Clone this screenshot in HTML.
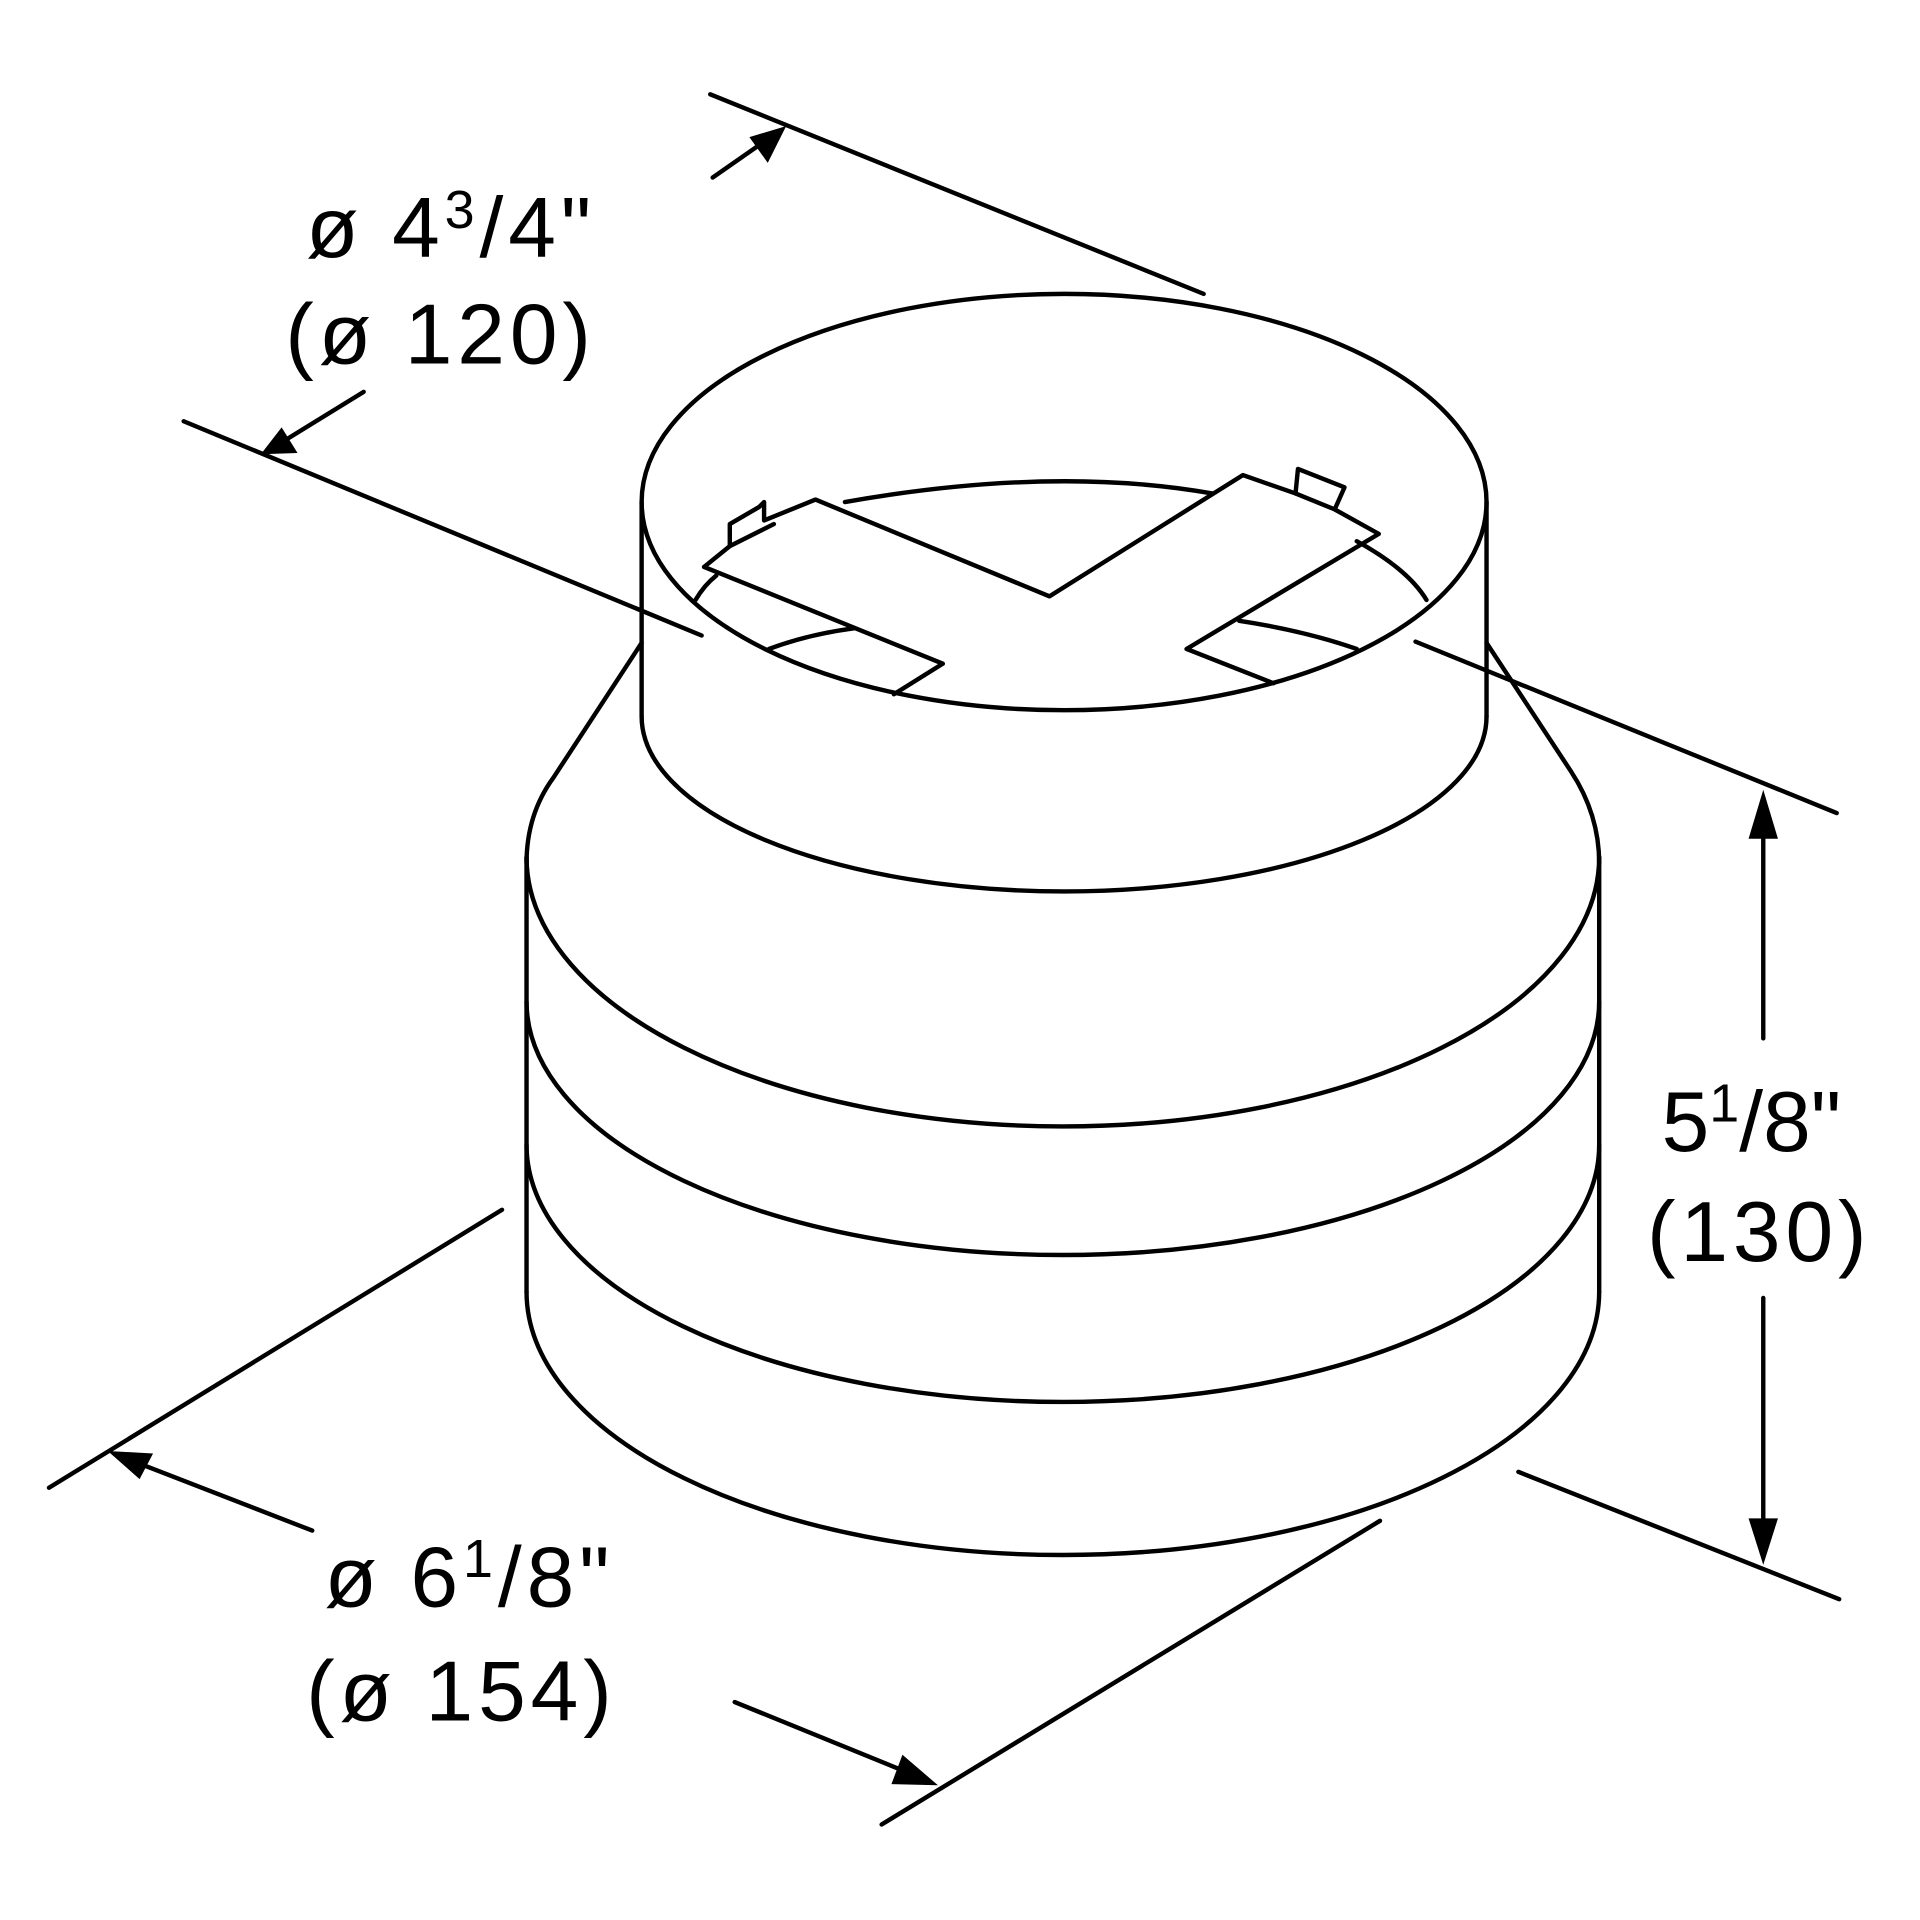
<!DOCTYPE html>
<html><head><style>html,body{margin:0;padding:0;background:#fff}svg{display:block}</style></head>
<body>
<svg width="1920" height="1920" viewBox="0 0 1568 1568" xmlns="http://www.w3.org/2000/svg">
<g fill="none" stroke="#000" stroke-width="3.6" stroke-linecap="round" stroke-linejoin="round">
<ellipse cx="869" cy="410" rx="345" ry="170"/>
<line x1="524" y1="410" x2="524" y2="585"/>
<line x1="1214" y1="410" x2="1214" y2="585"/>
<path d="M524,585 A345,143 0 0 0 1214,585"/>
<path d="M524,525 L452,635 Q430,665 430,705"/>
<path d="M1214,525 L1283,630 Q1306,665 1306,705"/>
<line x1="430" y1="700" x2="430" y2="1055"/>
<line x1="1306" y1="700" x2="1306" y2="1055"/>
<path d="M430,700 A438,220 0 0 0 1306,700"/>
<path d="M430,818 A438,207 0 0 0 1306,818"/>
<path d="M430,935 A438,210 0 0 0 1306,935"/>
<path d="M430,1055 A438,215 0 0 0 1306,1055"/>
<path d="M690,410 Q860,380 990,403"/>
<path d="M1108,442 Q1150,465 1165,490"/>
<path d="M1012,507 Q1065,515 1108,530"/>
<path d="M628,530 Q660,518 698,513"/>
<path d="M568,490 Q575,478 585,470"/>
<polyline points="575,463 596,446 596,428 620,414 624,410 624,425 666,408 857,487 1015,388 1058,403 1090,416 1126,436 969,530 1040,558"/>
<polyline points="575,463 770,542 730,567"/>
<polyline points="596,446 632,428"/>
<polyline points="1058,403 1060,383 1098,398 1090,416"/>
<line x1="580" y1="77" x2="983" y2="240"/>
<line x1="582" y1="145" x2="625" y2="115"/>
<line x1="150" y1="344" x2="573" y2="519"/>
<line x1="297" y1="320" x2="232" y2="360"/>
<line x1="1156" y1="524" x2="1500" y2="664"/>
<line x1="1240" y1="1202" x2="1502" y2="1306"/>
<line x1="1440" y1="670" x2="1440" y2="848"/>
<line x1="1440" y1="1060" x2="1440" y2="1255"/>
<line x1="410" y1="988" x2="40" y2="1215"/>
<line x1="255" y1="1250" x2="108" y2="1193"/>
<line x1="1127" y1="1242" x2="720" y2="1490"/>
<line x1="600" y1="1390" x2="745" y2="1449"/>
</g>
<g fill="#000">
<polygon points="642,103 612,112 627,133"/>
<polygon points="213,371 230,349 243,370"/>
<polygon points="1440,645 1428,685 1452,685"/>
<polygon points="1440,1278 1428,1240 1452,1240"/>
<polygon points="88,1185 125,1187 114,1208"/>
<polygon points="766,1458 737,1433 728,1457"/>
</g>
<g font-family="Liberation Sans, sans-serif" font-size="70" fill="#000" letter-spacing="4">
<text x="250" y="210">ø 4<tspan font-size="44" dy="-24">3</tspan><tspan dy="24">/4"</tspan></text>
<text x="233" y="297">(ø 120)</text>
<text x="1357" y="940" letter-spacing="0">5<tspan font-size="44" dy="-24">1</tspan><tspan dy="24">/8"</tspan></text>
<text x="1345" y="1030">(130)</text>
<text x="265" y="1312">ø 6<tspan font-size="44" dy="-24">1</tspan><tspan dy="24">/8"</tspan></text>
<text x="250" y="1405">(ø 154)</text>
</g>
</svg>
</body></html>
